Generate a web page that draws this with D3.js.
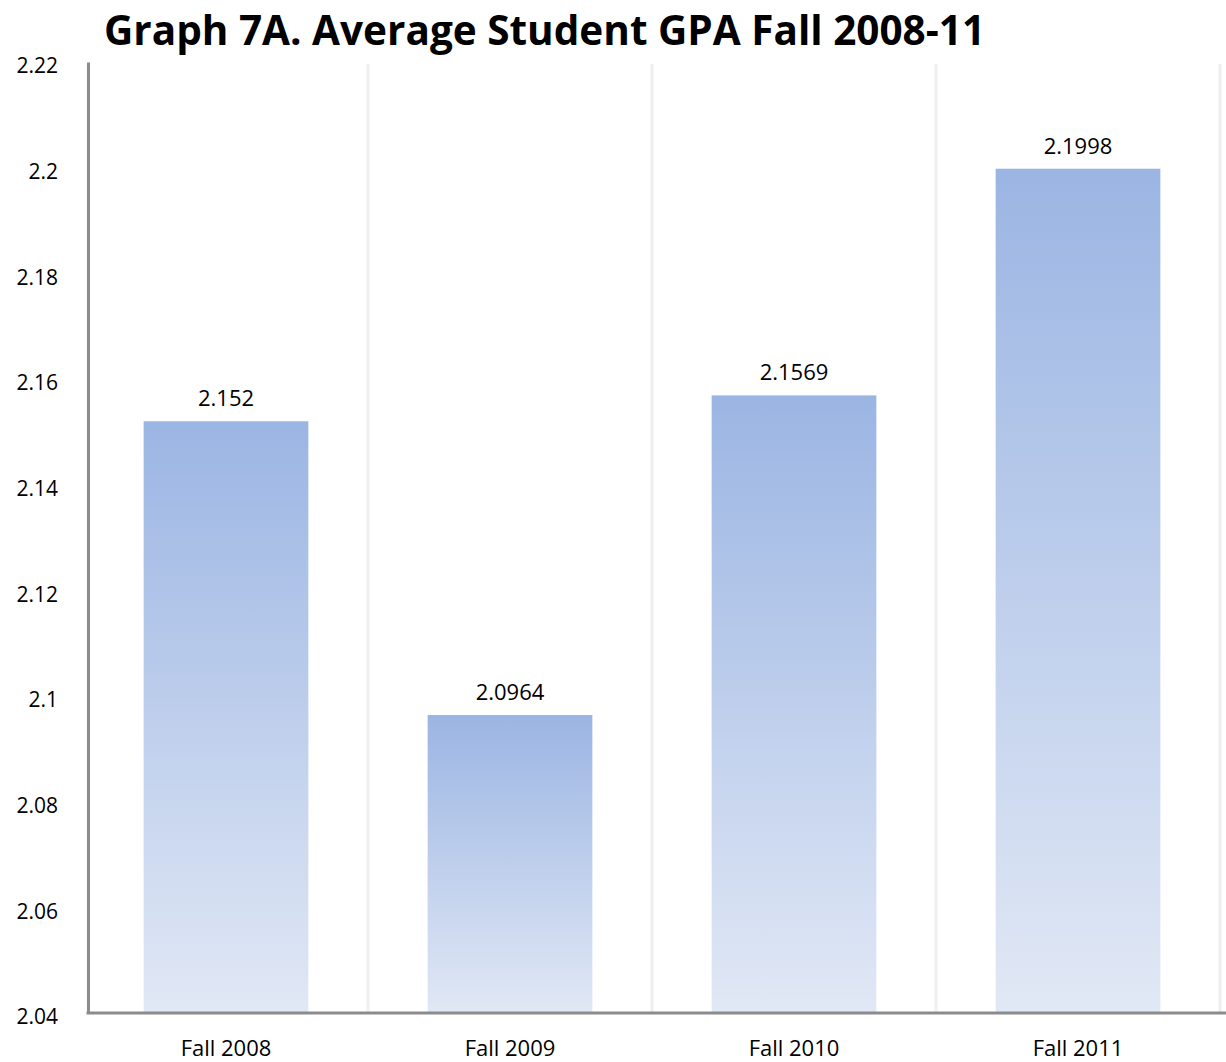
<!DOCTYPE html>
<html>
<head>
<meta charset="utf-8">
<script src="https://cdn.jsdelivr.net/npm/d3@7"></script>
<style>
  body { margin: 0; background: #fff; }
  text { font-family: "Open Sans", "Liberation Sans", sans-serif; fill: #000; }
</style>
</head>
<body>
<svg width="1226" height="1062"></svg>
<script>
var categories = ["Fall 2008", "Fall 2009", "Fall 2010", "Fall 2011"];
var gpa = [2.152, 2.0964, 2.1569, 2.1998];
var gpaLabels = ["2.152", "2.0964", "2.1569", "2.1998"];
var yTicks = [2.04, 2.06, 2.08, 2.1, 2.12, 2.14, 2.16, 2.18, 2.2, 2.22];

var svg = d3.select("svg");

var x = d3.scaleBand()
	.domain(categories)
	.range([84, 1220])
	.paddingInner(0.42)
	.paddingOuter(0.21);

var y = d3.scaleLinear()
	.domain([2.04, 2.22])
	.range([1013, 62]);

// gradient for the bars
var grad = svg.append("defs").append("linearGradient")
	.attr("id", "barGrad")
	.attr("x1", 0).attr("y1", 0).attr("x2", 0).attr("y2", 1);
grad.append("stop").attr("offset", "0%").attr("stop-color", "#9bb5e3");
grad.append("stop").attr("offset", "100%").attr("stop-color", "#e1e8f5");

// vertical separators between categories
var step = x.step();
svg.append("g").selectAll("line")
	.data(categories)
	.enter().append("line")
	.attr("x1", function(d) { return x(d) + x.bandwidth() + (step - x.bandwidth()) / 2; })
	.attr("x2", function(d) { return x(d) + x.bandwidth() + (step - x.bandwidth()) / 2; })
	.attr("y1", y(2.22) + 2)
	.attr("y2", y(2.04))
	.attr("stroke", "#efefef")
	.attr("stroke-width", 3);

svg.append("g").selectAll("rect")
	.data(gpa)
	.enter().append("rect")
	.attr("x", function(d, i) { return x(categories[i]); })
	.attr("width", x.bandwidth())
	.attr("y", function(d) { return y(d); })
	.attr("height", function(d) { return y(2.04) - y(d); })
	.attr("fill", "url(#barGrad)");

svg.append("g").selectAll("text")
	.data(gpa)
	.enter().append("text")
	.attr("x", function(d, i) { return x(categories[i]) + x.bandwidth() / 2; })
	.attr("y", function(d) { return y(d) - 15; })
	.attr("text-anchor", "middle")
	.style("font-size", "22px")
	.text(function(d, i) { return gpaLabels[i]; });

// axes
var yAxis = svg.append("g")
	.attr("transform", "translate(88,0)")
	.call(d3.axisLeft(y).tickValues(yTicks).tickSize(0).tickPadding(30)
		.tickFormat(function(d) { return String(+d.toFixed(2)); }));
yAxis.select(".domain").attr("stroke", "#8c8c8c").attr("stroke-width", 3);
yAxis.selectAll("text").style("font-size", "21px").attr("font-family", null)
	.attr("transform", "translate(0,4)");

var xAxis = svg.append("g")
	.attr("transform", "translate(0," + y(2.04) + ")")
	.call(d3.axisBottom(x).tickSize(0).tickPadding(27));
xAxis.select(".domain").attr("d", "M86.5,0H1226").attr("stroke", "#8c8c8c").attr("stroke-width", 3);
xAxis.selectAll("text").style("font-size", "22px").attr("font-family", null);

svg.append("text")
	.attr("x", 104)
	.attr("y", 45)
	.style("font-size", "40.5px")
	.style("font-weight", "bold")
	.text("Graph 7A. Average Student GPA Fall 2008-11");
</script>
</body>
</html>
